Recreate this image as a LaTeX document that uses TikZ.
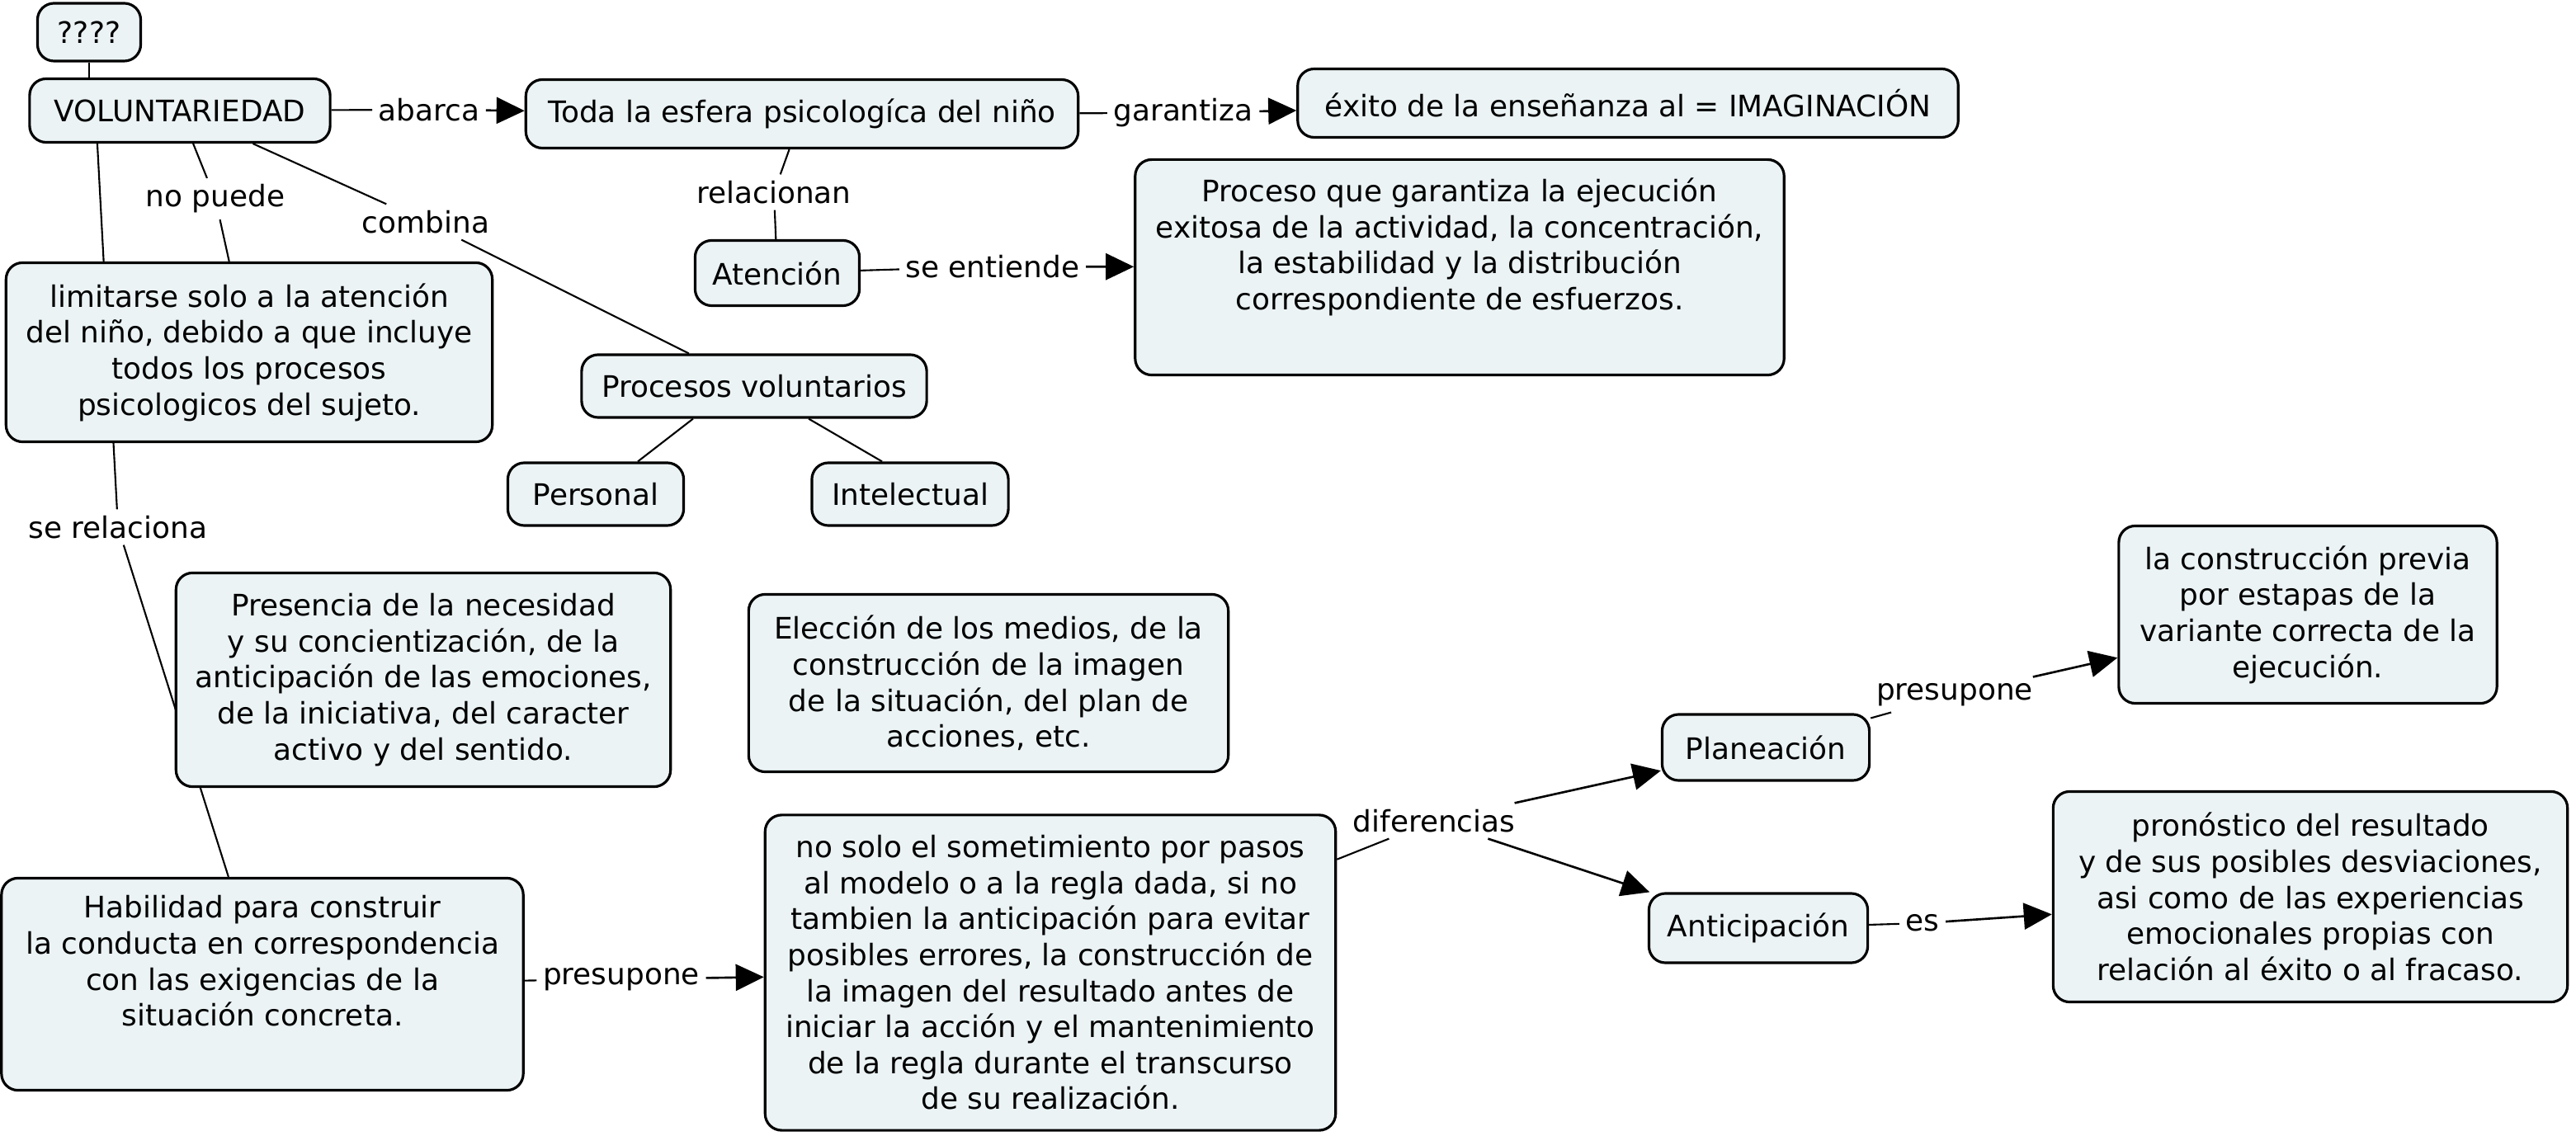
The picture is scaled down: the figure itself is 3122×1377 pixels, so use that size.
\documentclass[tikz,border=0pt]{standalone}
\usepackage{fontspec}
\setmainfont{DejaVu Sans}
\usetikzlibrary{arrows.meta,backgrounds}
\definecolor{conceptfill}{RGB}{235,243,245}

\begin{document}
\begin{tikzpicture}[x=0.01cm,y=-0.01cm,
    font=\fontsize{10.2}{12.4}\selectfont,
    concept/.style={draw,line width=0.9pt,rounded corners=0.2cm,fill=conceptfill,align=center,inner sep=0pt},
    linkword/.style={inner sep=2pt},
    link/.style={line width=0.6pt},
    arrowlink/.style={line width=0.75pt,-{Triangle[length=0.34cm,width=0.32cm]}}]
    \useasboundingbox (0,0) rectangle (3122,1377);

    \node[concept,minimum width=1.25cm,minimum height=0.70cm] (Q) at (108,39) {????};
    \node[concept,minimum width=3.64cm,minimum height=0.77cm] (Vol) at (218,134) {VOLUNTARIEDAD};
    \node[concept,minimum width=6.69cm,minimum height=0.83cm] (Esfera) at (972,138) {Toda la esfera psicologíca del niño};
    \node[concept,minimum width=8.00cm,minimum height=0.83cm] (Exito) at (1973,125) {éxito de la enseñanza al = IMAGINACIÓN};
    \node[concept,minimum width=1.99cm,minimum height=0.79cm] (Atencion) at (942,331) {Atención};
    \node[concept,minimum width=7.86cm,minimum height=2.61cm] (Proceso) at (1769,324) {Proceso que garantiza la ejecución\\exitosa de la actividad, la concentración,\\la estabilidad y la distribución\\correspondiente de esfuerzos.\\\strut};
    \node[concept,minimum width=4.18cm,minimum height=0.76cm] (ProcVol) at (914,468) {Procesos voluntarios};
    \node[concept,minimum width=2.13cm,minimum height=0.76cm] (Personal) at (722,599) {Personal};
    \node[concept,minimum width=2.38cm,minimum height=0.76cm] (Intelectual) at (1103,599) {Intelectual};
    \node[concept,minimum width=5.89cm,minimum height=2.17cm] (Limitarse) at (302,427) {limitarse solo a la atención\\del niño, debido a que incluye\\todos los procesos\\psicologicos del sujeto.};
    \node[concept,minimum width=5.99cm,minimum height=2.59cm] (Presencia) at (513,824) {Presencia de la necesidad\\y su concientización, de la\\anticipación de las emociones,\\de la iniciativa, del caracter\\activo y del sentido.};
    \node[concept,minimum width=5.81cm,minimum height=2.15cm] (Eleccion) at (1198,828) {Elección de los medios, de la\\construcción de la imagen\\de la situación, del plan de\\acciones, etc.};
    \node[concept,minimum width=6.32cm,minimum height=2.57cm] (Habilidad) at (318,1193) {Habilidad para construir\\la conducta en correspondencia\\con las exigencias de la\\situación concreta.\\\strut};
    \node[concept,minimum width=6.91cm,minimum height=3.82cm] (NoSolo) at (1273,1179) {no solo el sometimiento por pasos\\al modelo o a la regla dada, si no\\tambien la anticipación para evitar\\posibles errores, la construcción de\\la imagen del resultado antes de\\iniciar la acción y el mantenimiento\\de la regla durante el transcurso\\de su realización.};
    \node[concept,minimum width=2.51cm,minimum height=0.80cm] (Planeacion) at (2140,906) {Planeación};
    \node[concept,minimum width=2.65cm,minimum height=0.84cm] (Anticipacion) at (2131,1125) {Anticipación};
    \node[concept,minimum width=4.58cm,minimum height=2.15cm] (Construccion) at (2797,745) {la construcción previa\\por estapas de la\\variante correcta de la\\ejecución.};
    \node[concept,minimum width=6.23cm,minimum height=2.55cm] (Pronostico) at (2800,1087) {pronóstico del resultado\\y de sus posibles desviaciones,\\asi como de las experiencias\\emocionales propias con\\relación al éxito o al fracaso.};

    \node[linkword] (Abarca) at (520,133) {abarca};
    \node[linkword] (Garantiza) at (1434,137) {garantiza};
    \node[linkword] (Relacionan) at (938,233) {relacionan};
    \node[linkword] (SeEntiende) at (1203,323) {se entiende};
    \node[linkword] (NoPuede) at (261,241) {no puede};
    \node[linkword] (Combina) at (516,269) {combina};
    \node[linkword] (SeRelaciona) at (143,639) {se relaciona};
    \node[linkword] (PresuponeA) at (753,1187) {presupone};
    \node[linkword] (Diferencias) at (1738,995) {diferencias};
    \node[linkword] (PresuponeB) at (2369,842) {presupone};
    \node[linkword] (Es) at (2330,1119) {es};

    \begin{scope}[on background layer]
        \draw[link] (Q.south) -- (Q.south |- Vol.north);
        \draw[link] (Vol) -- (Abarca);
        \draw[arrowlink] (Abarca) -- (Esfera);
        \draw[link] (Esfera) -- (Garantiza);
        \draw[arrowlink] (Garantiza) -- (Exito);
        \draw[link] (Esfera) -- (Relacionan) -- (Atencion);
        \draw[link] (Atencion) -- (SeEntiende);
        \draw[arrowlink] (SeEntiende) -- (Proceso);
        \draw[link] (Vol) -- (NoPuede) -- (Limitarse);
        \draw[link] (Vol) -- (Combina) -- (ProcVol);
        \draw[link] ([xshift=-0.74cm]ProcVol.south) -- ([xshift=0.51cm]Personal.north);
        \draw[link] ([xshift=0.66cm]ProcVol.south) -- ([xshift=-0.34cm]Intelectual.north);
        \draw[link] ([xshift=-1.0cm]Vol.south) -- (SeRelaciona) -- (Habilidad);
        \draw[link] (Habilidad) -- (PresuponeA);
        \draw[arrowlink] (PresuponeA) -- (NoSolo);
        \draw[link] (NoSolo) -- (Diferencias);
        \draw[arrowlink] (Diferencias) -- (Planeacion);
        \draw[arrowlink] (Diferencias) -- (Anticipacion);
        \draw[link] (Planeacion) -- (PresuponeB);
        \draw[arrowlink] (PresuponeB) -- (Construccion);
        \draw[link] (Anticipacion) -- (Es);
        \draw[arrowlink] (Es) -- (Pronostico);
    \end{scope}
\end{tikzpicture}
\end{document}
